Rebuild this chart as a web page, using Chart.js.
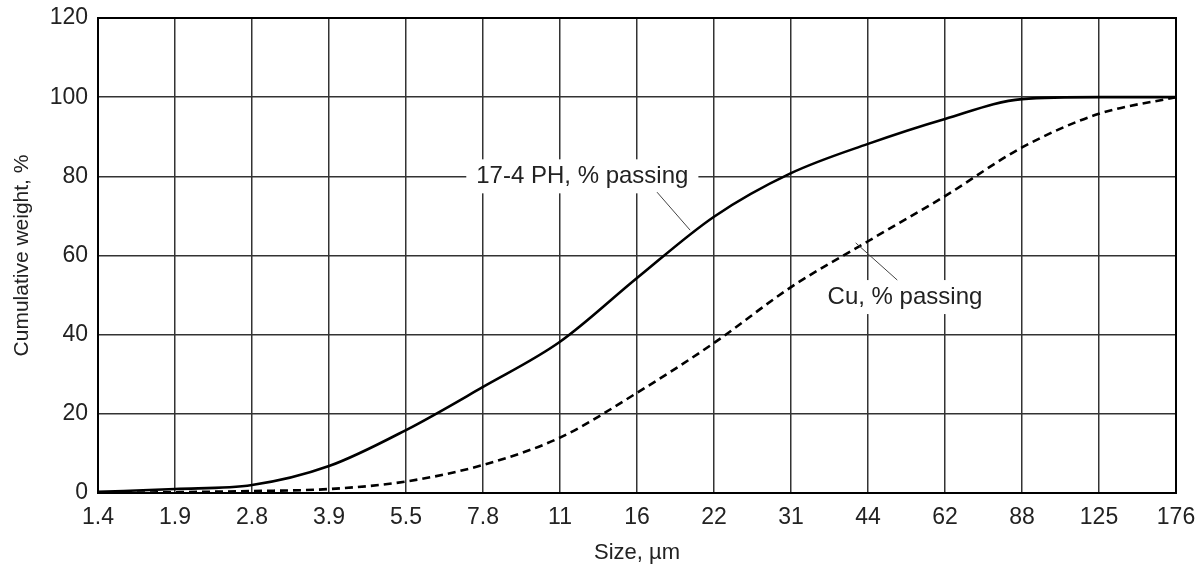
<!DOCTYPE html>
<html>
<head>
<meta charset="utf-8">
<script src="https://cdn.jsdelivr.net/npm/chart.js@4.4.1/dist/chart.umd.min.js"></script>
<style>
  html, body { margin: 0; padding: 0; background: #fff; }
  #wrap { width: 1195px; height: 565px; }
</style>
</head>
<body>
<div id="wrap"><canvas id="grafico" width="1195" height="565"></canvas></div>
<script>
// Tamaños de partícula (eje X, espaciado uniforme)
const sizes = ['1.4', '1.9', '2.8', '3.9', '5.5', '7.8', '11', '16', '22', '31', '44', '62', '88', '125', '176'];
// Curvas de peso acumulado, % que pasa
const ph174 = [0.3, 1, 2, 6.8, 15.9, 26.8, 38.2, 54.3, 69.8, 80.8, 88.2, 94.5, 99.5, 100, 100];
const cobre = [0, 0.2, 0.5, 1, 2.9, 7.1, 14, 25.3, 37.9, 52, 63.6, 75, 87.3, 95.8, 100];
const yTicks = [0, 20, 40, 60, 80, 100, 120];

const fuente = "'Liberation Sans', Arial, Helvetica, sans-serif";

// Etiquetas con fondo blanco y línea guía, en coordenadas de datos
const etiquetas = [
  { text: '17-4 PH, % passing', x: 6.29, y: 80, from: [7.26, 76], to: [7.69, 66.4] },
  { text: 'Cu, % passing', x: 10.48, y: 49.5, from: [9.84, 63.2], to: [10.38, 53.8] }
];

const pluginEtiquetas = {
  id: 'etiquetas',
  afterDatasetsDraw(chart) {
    const ctx = chart.ctx;
    const sx = chart.scales.x, sy = chart.scales.y;
    ctx.save();
    ctx.font = '24px ' + fuente;
    ctx.textAlign = 'center';
    ctx.textBaseline = 'middle';
    etiquetas.forEach(e => {
      const px = sx.getPixelForValue(e.x), py = sy.getPixelForValue(e.y);
      const w = ctx.measureText(e.text).width;
      ctx.fillStyle = '#fff';
      ctx.fillRect(px - w / 2 - 10, py - 17, w + 20, 34);
      ctx.fillStyle = '#222';
      ctx.fillText(e.text, px, py);
      ctx.strokeStyle = '#444';
      ctx.lineWidth = 1;
      ctx.beginPath();
      ctx.moveTo(sx.getPixelForValue(e.from[0]), sy.getPixelForValue(e.from[1]));
      ctx.lineTo(sx.getPixelForValue(e.to[0]), sy.getPixelForValue(e.to[1]));
      ctx.stroke();
    });
    ctx.restore();
  }
};

const ctx = document.getElementById('grafico').getContext('2d');
new Chart(ctx, {
  type: 'line',
  data: {
    labels: sizes,
    datasets: [
      {
        label: '17-4 PH',
        data: ph174,
        borderColor: '#000',
        borderWidth: 2.6,
        pointRadius: 0,
        cubicInterpolationMode: 'monotone',
        fill: false
      },
      {
        label: 'Cu',
        data: cobre,
        borderColor: '#000',
        borderWidth: 2.6,
        borderDash: [8, 5],
        pointRadius: 0,
        cubicInterpolationMode: 'monotone',
        fill: false
      }
    ]
  },
  options: {
    responsive: false,
    animation: false,
    layout: { padding: { top: 18, right: 19, left: 0, bottom: 0 } },
    plugins: {
      legend: { display: false },
      tooltip: { enabled: false }
    },
    scales: {
      x: {
        grid: { color: '#333', lineWidth: 1.5, drawTicks: false },
        border: { color: '#000', width: 2 },
        ticks: { color: '#222', font: { family: fuente, size: 23 }, padding: 11, maxRotation: 0, autoSkip: false },
        title: { display: true, text: 'Size, \u00b5m', color: '#222', font: { family: fuente, size: 22 }, padding: { top: 4, bottom: -1 } },
        afterFit(scale) {
          scale.height = 72;
          scale.paddingLeft = 0;
          scale.paddingRight = 0;
        }
      },
      y: {
        min: 0, max: 120,
        afterBuildTicks(scale) { scale.ticks = yTicks.map(v => ({ value: v })); },
        grid: { color: '#333', lineWidth: 1.5, drawTicks: false },
        border: { color: '#000', width: 2 },
        ticks: { color: '#222', font: { family: fuente, size: 23 }, padding: 10 },
        title: { display: true, text: 'Cumulative weight, %', color: '#222', font: { family: fuente, size: 21 }, padding: { top: 10, bottom: 4 } },
        afterFit(scale) {
          scale.width = 98;
          scale.paddingTop = 0;
          scale.paddingBottom = 0;
        }
      }
    }
  },
  plugins: [pluginEtiquetas, {
    id: 'marco',
    afterDraw(chart) {
      const a = chart.chartArea, c = chart.ctx;
      c.save();
      c.strokeStyle = '#000';
      c.lineWidth = 2;
      c.strokeRect(a.left, a.top, a.right - a.left, a.bottom - a.top);
      c.restore();
    }
  }]
});
</script>
</body>
</html>
